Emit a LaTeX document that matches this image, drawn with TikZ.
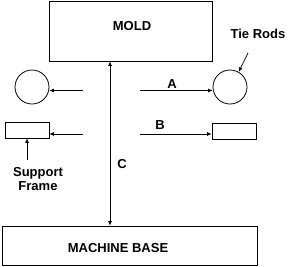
\documentclass[tikz,border=0pt]{standalone}
\usepackage{fontspec}
\setmainfont{Liberation Sans}
\usetikzlibrary{arrows.meta}
\begin{document}
\begin{tikzpicture}[x=1pt,y=-1pt,
  box/.style={draw,line width=0.8pt,inner sep=0pt},
  lbl/.style={font=\fontsize{13}{15}\selectfont\bfseries,inner sep=0pt,align=center},
  arr/.style={line width=0.7pt,-{Latex[length=4.5pt,width=4pt]}},
  darr/.style={line width=0.7pt,{Latex[length=4.5pt,width=4pt]}-{Latex[length=4.5pt,width=4pt]}}]
\useasboundingbox (0,0) rectangle (300,266);
% boxes
\node[box,minimum width=163pt,minimum height=60pt] (mold) at (130.5,31) {};
\node[lbl] (moldt) at (132,26) {MOLD};
\node[box,minimum width=255pt,minimum height=39pt] (base) at (129.5,245.5) {};
\node[lbl] (baset) at (118,248) {MACHINE BASE};
% tie rods
\node[draw,line width=0.8pt,circle,minimum size=34pt,inner sep=0pt] (lcirc) at (32,87) {};
\node[draw,line width=0.8pt,circle,minimum size=34pt,inner sep=0pt] (rcirc) at (230,87) {};
% support frames
\node[box,minimum width=44pt,minimum height=16pt] (lrect) at (27,130) {};
\node[box,minimum width=44pt,minimum height=16pt] (rrect) at (234,131) {};
% arrows
\coordinate (a1) at (83,90.5);
\coordinate (a2) at (140,90.5);
\coordinate (b1) at (83,134);
\coordinate (b2) at (140,134);
\draw[arr] (a1) -- (lcirc.east |- a1);
\draw[arr] (a2) -- (rcirc.west |- a2);
\draw[arr] (b1) -- (lrect.east |- b1);
\draw[arr] (b2) -- (rrect.west |- b2);
\node[lbl] (A) at (172,84) {A};
\node[lbl] (B) at (160,125) {B};
% C
\coordinate (c1) at (110,0);
\draw[darr] (mold.south -| c1) -- (base.north -| c1);
\node[lbl] (C) at (122,164) {C};
% labels
\node[lbl] (tie) at (258,34) {Tie Rods};
\coordinate (t1) at (248,53);
\draw[arr] (t1) -- (rcirc.60);
\node[lbl] (sf) at (38,179.5) {Support\\[-1pt]Frame};
\coordinate (s0) at (27,160);
\draw[arr] (s0) -- (s0 |- lrect.south);
\end{tikzpicture}
\end{document}
